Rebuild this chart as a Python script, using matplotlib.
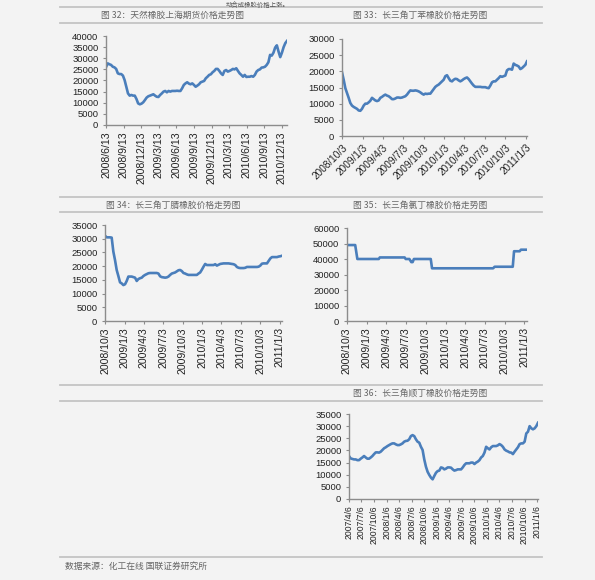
import matplotlib
matplotlib.use("Agg")
import matplotlib.pyplot as plt
import pandas as pd
import numpy as np

plt.rcParams['font.family'] = ['Liberation Sans', 'Noto Sans CJK SC', 'DejaVu Sans']

# ---------------- data ----------------
top_text = "动合成橡胶价格上涨。"
source_text = "数据来源：化工在线 国联证券研究所"

title1 = "图 32：天然橡胶上海期货价格走势图"
title2 = "图 33：长三角丁苯橡胶价格走势图"
title3 = "图 34：长三角丁腈橡胶价格走势图"
title4 = "图 35：长三角氯丁橡胶价格走势图"
title5 = "图 36：长三角顺丁橡胶价格走势图"

# Chart 1: SHFE natural rubber futures
start1, end1 = "2008-06-13", "2011-01-08"
values1 = [26000, 27700, 27300, 27000, 26200, 25900, 25200, 23200, 22900, 22900,
           22200, 20200, 17200, 14200, 13200, 13500, 13200, 13200, 11700, 9700,
           9300, 9600, 10200, 11200, 12300, 12900, 13200, 13500, 13800, 13200,
           12700, 12600, 13500, 14200, 15000, 15300, 14700, 15300, 15000, 15300,
           15300, 15300, 15400, 15300, 15300, 16500, 18000, 18700, 19200, 18600,
           18300, 18700, 18000, 17200, 17700, 18300, 19200, 19500, 19800, 21000,
           21700, 22500, 22800, 23700, 24300, 25200, 25200, 24300, 23200, 22500,
           24300, 24700, 24000, 24300, 24700, 25200, 25000, 25500, 24300, 23200,
           22500, 21700, 22500, 21600, 21700, 21700, 22000, 21700, 22500, 24000,
           24700, 25000, 25800, 25900, 26200, 27000, 28200, 31500, 31200, 32500,
           34800, 35800, 33000, 30500, 32500, 35000, 36800, 37800]
xticks1 = ["2008/6/13", "2008/9/13", "2008/12/13", "2009/3/13", "2009/6/13", "2009/9/13",
           "2009/12/13", "2010/3/13", "2010/6/13", "2010/9/13", "2010/12/13"]
yticks1 = [0, 5000, 10000, 15000, 20000, 25000, 30000, 35000, 40000]

# Chart 2: SBR
start2, end2 = "2008-10-03", "2011-01-08"
values2 = [19700, 17400, 14800, 13300, 11800, 10200, 9400, 9000, 8700, 8400,
           7900, 7800, 8400, 9400, 10000, 10000, 10400, 10900, 11800, 11400,
           11000, 10800, 11000, 11800, 12100, 12500, 12800, 12500, 12300, 11900,
           11400, 11400, 11600, 11900, 11900, 11800, 11900, 12100, 12300, 12800,
           13500, 14100, 14000, 14000, 14100, 14000, 13800, 13500, 13100, 12800,
           13100, 13000, 13100, 13100, 13800, 14500, 15200, 15600, 15900, 16400,
           16900, 17400, 18500, 18800, 17900, 17100, 16900, 17400, 17700, 17600,
           17200, 16900, 17200, 17600, 17900, 18100, 17600, 16900, 16200, 15600,
           15200, 15200, 15200, 15200, 15100, 15100, 15100, 14900, 14800, 15600,
           16600, 16900, 16900, 17400, 17900, 18500, 18300, 18500, 18700, 20300,
           20700, 20700, 20500, 22400, 22000, 21800, 21500, 20700, 21000, 21500,
           22000, 23100]
xticks2 = ["2008/10/3", "2009/1/3", "2009/4/3", "2009/7/3", "2009/10/3", "2010/1/3",
           "2010/4/3", "2010/7/3", "2010/10/3", "2011/1/3"]
yticks2 = [0, 5000, 10000, 15000, 20000, 25000, 30000]

# Chart 3: NBR
start3, end3 = "2008-10-03", "2011-01-13"
values3 = [31100, 30500, 30500, 30500, 30400, 25300, 22200, 18600, 16400, 14100,
           13700, 13100, 13400, 14600, 16200, 16200, 16200, 16000, 15800, 14600,
           15300, 15600, 15800, 16400, 16800, 17100, 17400, 17500, 17500, 17500,
           17500, 17500, 17300, 16300, 16000, 15900, 15800, 15900, 16200, 16800,
           17300, 17500, 17700, 18100, 18500, 18600, 18200, 17500, 17300, 17000,
           16800, 16800, 16800, 16800, 16800, 16800, 17300, 17700, 18700, 19800,
           20800, 20400, 20400, 20400, 20400, 20400, 20700, 20200, 20500, 20800,
           20900, 21000, 21000, 21000, 21000, 20900, 20800, 20700, 20400, 19700,
           19400, 19300, 19300, 19300, 19400, 19700, 19700, 19700, 19700, 19700,
           19700, 19700, 19800, 20200, 20900, 21000, 21000, 21000, 21900, 22800,
           23300, 23300, 23300, 23300, 23500, 23600, 23800]
xticks3 = xticks2
yticks3 = [0, 5000, 10000, 15000, 20000, 25000, 30000, 35000]

# Chart 4: CR (step-like price changes)
dates4 = ["2008-10-03", "2008-11-10", "2008-11-20", "2009-02-27", "2009-03-04",
          "2009-06-27", "2009-07-02", "2009-07-19", "2009-07-28", "2009-08-03",
          "2009-08-09", "2009-10-26", "2009-11-01", "2010-08-11", "2010-08-18",
          "2010-11-10", "2010-11-16", "2010-12-12", "2010-12-18", "2011-01-15"]
values4 = [49000, 49000, 40000, 40000, 41000, 41000, 40000, 40000, 38000, 38000,
           40000, 40000, 34000, 34000, 35000, 35000, 45000, 45000, 46000, 46000]
xticks4 = xticks2
yticks4 = [0, 10000, 20000, 30000, 40000, 50000, 60000]

# Chart 5: BR
start5, end5 = "2007-04-06", "2011-01-12"
values5 = [17700, 16700, 16500, 16300, 16300, 16000, 16000, 16600, 17100, 17700,
           17100, 16600, 16600, 17100, 17700, 18500, 19200, 19200, 19100, 19500,
           20200, 20900, 21300, 21800, 22200, 22600, 22900, 22900, 22500, 22200,
           22200, 22500, 22900, 23600, 23900, 24000, 24600, 25900, 26300, 25900,
           24600, 23600, 23200, 21500, 20200, 16300, 13300, 11200, 9900, 8800,
           8100, 9500, 10800, 11500, 11700, 13000, 12800, 12200, 12500, 13000,
           13000, 12900, 12200, 11700, 11900, 12200, 12200, 12200, 13000, 14000,
           14700, 14700, 14700, 15000, 15000, 14400, 15000, 15400, 16000, 17100,
           17700, 19100, 21500, 20900, 20400, 21300, 21800, 21800, 21800, 22100,
           22600, 22200, 21500, 20400, 19900, 19600, 19200, 19100, 18500, 19500,
           20400, 21300, 22600, 22900, 22900, 23600, 27000, 27700, 30000, 29100,
           28700, 29100, 30000, 31400]
xticks5 = ["2007/4/6", "2007/7/6", "2007/10/6", "2008/1/6", "2008/4/6", "2008/7/6",
           "2008/10/6", "2009/1/6", "2009/4/6", "2009/7/6", "2009/10/6", "2010/1/6",
           "2010/4/6", "2010/7/6", "2010/10/6", "2011/1/6"]
yticks5 = [0, 5000, 10000, 15000, 20000, 25000, 30000, 35000]

# ---------------- style ----------------
W, H = 595, 580
BG = "#f3f3f3"
LINE = "#4a7ebb"
SPINE = "#8c8c8c"
SEP = "#c4c4c4"
TXT = "#222222"
TITLE_C = "#666666"

fig = plt.figure(figsize=(W / 100, H / 100), dpi=100, facecolor=BG)


def fx(x):
    return x / W


def fy(y):
    return 1 - y / H


def add_axes(x0, x1, ytop, ybot):
    return fig.add_axes([fx(x0), fy(ybot), fx(x1 - x0), (ybot - ytop) / H])


def style(ax, dates, vals, xt, yt, rot, xfs, start, end):
    ax.set_facecolor("none")
    ax.plot(dates, vals, color=LINE, lw=1.9, solid_joinstyle="round")
    tpos = pd.to_datetime(xt, format="%Y/%m/%d")
    ax.set_xticks(tpos)
    if rot == 45:
        ax.set_xticklabels(xt, rotation=45, ha="right", rotation_mode="anchor",
                           fontsize=xfs, color=TXT)
    else:
        ax.set_xticklabels(xt, rotation=90, ha="center", va="top",
                           fontsize=xfs, color=TXT)
    ax.set_yticks(yt)
    ax.set_yticklabels([str(v) for v in yt], fontsize=6.8, color=TXT)
    ax.set_ylim(yt[0], yt[-1])
    ax.set_xlim(pd.Timestamp(start), pd.Timestamp(end))
    for s in ("top", "right"):
        ax.spines[s].set_visible(False)
    for s in ("left", "bottom"):
        ax.spines[s].set_color(SPINE)
        ax.spines[s].set_linewidth(1.0)
    ax.tick_params(axis="both", colors=SPINE, length=2.5, width=0.8,
                   labelcolor=TXT)
    ax.tick_params(axis="y", pad=3)
    ax.tick_params(axis="x", pad=2)


# separators (full width)
for yy in (7, 23, 197, 212, 385, 401, 557):
    fig.add_artist(plt.Line2D([fx(60), fx(542)], [fy(yy), fy(yy)],
                              color=SEP, lw=1.3))

cjk = ["Noto Sans CJK SC", "DejaVu Sans"]
fig.text(fx(258), fy(0.5), top_text, ha="center", va="top", fontsize=4.6,
         color="#555555", family=cjk)
fig.text(fx(172), fy(15), title1, ha="center", va="center", fontsize=6.3,
         color=TITLE_C, family=cjk)
fig.text(fx(420), fy(15), title2, ha="center", va="center", fontsize=6.3,
         color=TITLE_C, family=cjk)
fig.text(fx(173), fy(205), title3, ha="center", va="center", fontsize=6.3,
         color=TITLE_C, family=cjk)
fig.text(fx(420), fy(205), title4, ha="center", va="center", fontsize=6.3,
         color=TITLE_C, family=cjk)
fig.text(fx(420), fy(393), title5, ha="center", va="center", fontsize=6.3,
         color=TITLE_C, family=cjk)
fig.text(fx(65), fy(566), source_text, ha="left", va="center", fontsize=6.3,
         color=TITLE_C, family=cjk)

# chart 1
ax1 = add_axes(106, 287, 36, 125)
d1 = pd.date_range(start1, end1, periods=len(values1))
style(ax1, d1, values1, xticks1, yticks1, 90, 7.6, start1, end1)

# chart 2
ax2 = add_axes(342, 527, 39, 136)
d2 = pd.date_range(start2, end2, periods=len(values2))
style(ax2, d2, values2, xticks2, yticks2, 45, 7.2, start2, end2)

# chart 3
ax3 = add_axes(105, 282, 225, 321)
d3 = pd.date_range(start3, end3, periods=len(values3))
style(ax3, d3, values3, xticks3, yticks3, 90, 7.6, start3, end3)

# chart 4
ax4 = add_axes(347, 527, 228, 321)
d4 = pd.to_datetime(dates4)
style(ax4, d4, values4, xticks4, yticks4, 90, 7.6, dates4[0], dates4[-1])

# chart 5
ax5 = add_axes(349, 538, 414, 499)
d5 = pd.date_range(start5, end5, periods=len(values5))
style(ax5, d5, values5, xticks5, yticks5, 90, 6.2, start5, end5)

fig.savefig("out.png", dpi=100, facecolor=BG)
